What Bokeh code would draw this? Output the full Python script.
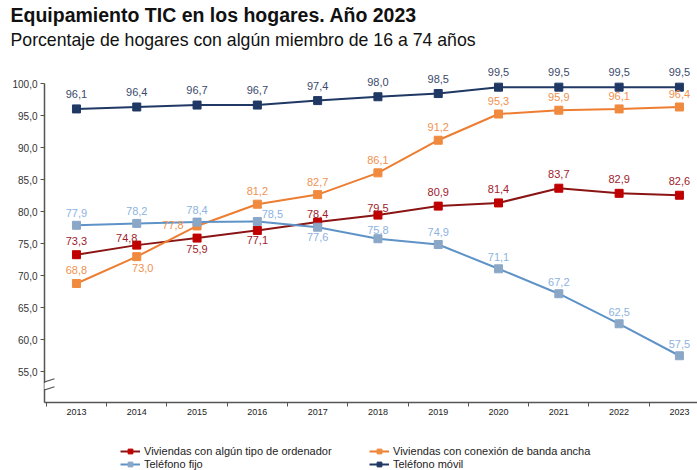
from bokeh.plotting import figure
from bokeh.layouts import column
from bokeh.models import (ColumnDataSource, FixedTicker, Legend, LegendItem, LabelSet,
                          Title, Arrow, BoxAnnotation, Range1d)
from bokeh.core.properties import value
from bokeh.embed import file_html
from bokeh.resources import INLINE

years = [2013, 2014, 2015, 2016, 2017, 2018, 2019, 2020, 2021, 2022, 2023]
ordenador = [73.3, 74.8, 75.9, 77.1, 78.4, 79.5, 80.9, 81.4, 83.7, 82.9, 82.6]
banda = [68.8, 73.0, 77.8, 81.2, 82.7, 86.1, 91.2, 95.3, 95.9, 96.1, 96.4]
fijo = [77.9, 78.2, 78.4, 78.5, 77.6, 75.8, 74.9, 71.1, 67.2, 62.5, 57.5]
movil = [96.1, 96.4, 96.7, 96.7, 97.4, 98.0, 98.5, 99.5, 99.5, 99.5, 99.5]

names = ["Viviendas con algún tipo de ordenador", "Viviendas con conexión de banda ancha",
         "Teléfono fijo", "Teléfono móvil"]
y_ticks = [55, 60, 65, 70, 75, 80, 85, 90, 95, 100]

FONT = "Liberation Sans"
Y_LOW = 50.19

def fmt(v):
    return f"{v:.1f}".replace(".", ",")

p = figure(width=697, height=420, output_backend="svg", toolbar_location=None,
           x_range=Range1d(2012.47, 2023.3), y_range=Range1d(Y_LOW, 105.39),
           min_border_left=44, min_border_right=0, min_border_top=0, min_border_bottom=18)
p.outline_line_color = None
p.background_fill_color = "white"
p.grid.visible = False

# titles (added bottom-up)
p.add_layout(Title(text="Porcentaje de hogares con algún miembro de 16 a 74 años",
                   text_font=FONT, text_font_size="17.7px", text_font_style="normal",
                   text_color="#111111", offset=-34, standoff=0), "above")
p.add_layout(Title(text="Equipamiento TIC en los hogares. Año 2023",
                   text_font=FONT, text_font_size="19.5px", text_font_style="bold",
                   text_color="#111111", offset=-34, standoff=3), "above")

# axes
xa = p.xaxis[0]
xa.ticker = FixedTicker(ticks=years, minor_ticks=[y - 0.5 for y in years] + [2023.5])
xa.major_tick_line_color = None
xa.major_tick_out = 4
xa.major_tick_in = 0
xa.minor_tick_out = 4
xa.minor_tick_in = 0
xa.minor_tick_line_color = "#555555"
xa.axis_line_color = "#555555"
xa.axis_line_width = 1.5
xa.major_label_text_font = FONT
xa.major_label_text_font_size = "9px"
xa.major_label_text_color = "#222222"
xa.major_label_standoff = 2

ya = p.yaxis[0]
ya.ticker = FixedTicker(ticks=y_ticks)
ya.major_label_overrides = {t: fmt(t) for t in y_ticks}
ya.bounds = (Y_LOW, 100)
ya.minor_tick_line_color = None
ya.major_tick_out = 4
ya.major_tick_in = 0
ya.major_tick_line_color = "#555555"
ya.axis_line_color = "#555555"
ya.axis_line_width = 1.5
ya.major_label_text_font = FONT
ya.major_label_text_font_size = "10px"
ya.major_label_text_color = "#333333"
ya.major_label_standoff = 3

series = [
    (ordenador, "#8b1515", "#c00000", "#9e1b2b",
     {1: (-10, 7), 2: (0, -11), 3: (0, -10), 4: (0, 8), 5: (0, 7)}, 14),
    (banda, "#ed7d31", "#f08a3f", "#f0924f",
     {1: (6, -11), 2: (-24, 1)}, 13),
    (fijo, "#5f93c8", "#8aa7c7", "#8db3e0",
     {3: (15, 7), 4: (0, -10), 5: (0, 9)}, 12),
    (movil, "#1f3864", "#1f3864", "#3b4a6b", {}, 15),
]

# legend figure
lg = figure(width=697, height=50, output_backend="svg", toolbar_location=None,
            x_range=Range1d(0, 1), y_range=Range1d(0, 1),
            min_border_left=0, min_border_right=0, min_border_top=0, min_border_bottom=0)
lg.axis.visible = False
lg.grid.visible = False
lg.outline_line_color = None

items = []
for (vals, lc, mc, tc, offs, dflt), name in zip(series, names):
    dx = [offs.get(i, (0, dflt))[0] for i in range(len(years))]
    dy = [offs.get(i, (0, dflt))[1] for i in range(len(years))]
    src = ColumnDataSource(dict(x=years, y=vals, lab=[fmt(v) for v in vals], dx=dx, dy=dy))
    p.line("x", "y", source=src, line_color=lc, line_width=2)
    p.scatter("x", "y", source=src, marker="square", size=8,
              fill_color=mc, line_color=mc)
    ls = LabelSet(x="x", y="y", text="lab", source=src, x_offset="dx", y_offset="dy",
                  text_align="center", text_baseline="middle", text_font=value(FONT),
                  text_font_size=value("11px"), text_color=tc)
    p.add_layout(ls)
    # hidden proxies (outside the legend figure's range) for the legend
    r1 = lg.line([-5, -4], [-5, -5], line_color=lc, line_width=2)
    r2 = lg.scatter([-5], [-5], marker="square", size=7, fill_color=mc, line_color=mc)
    items.append(LegendItem(label=name, renderers=[r1, r2]))

# axis break
p.add_layout(BoxAnnotation(left=2012.43, right=2012.51, bottom=52.3, top=53.25,
                           fill_color="white", fill_alpha=1, line_color=None))
for y0, y1 in [(52.97, 53.91), (51.72, 52.66)]:
    p.add_layout(Arrow(end=None, x_start=2012.337, y_start=y0, x_end=2012.636, y_end=y1,
                       line_color="#555555", line_width=1.2))

legend = Legend(items=items, ncols=2, orientation="horizontal",
                location=(76, 0),
                label_text_font=FONT, label_text_font_size="11px", label_text_color="#222222",
                glyph_width=20, glyph_height=12, label_height=12, label_width=224,
                label_standoff=4, spacing=1, padding=0, margin=0,
                border_line_color=None, background_fill_alpha=0)
lg.add_layout(legend, "center")

layout = column(p, lg, spacing=0)
open("out.html", "w").write(file_html(layout, INLINE))
